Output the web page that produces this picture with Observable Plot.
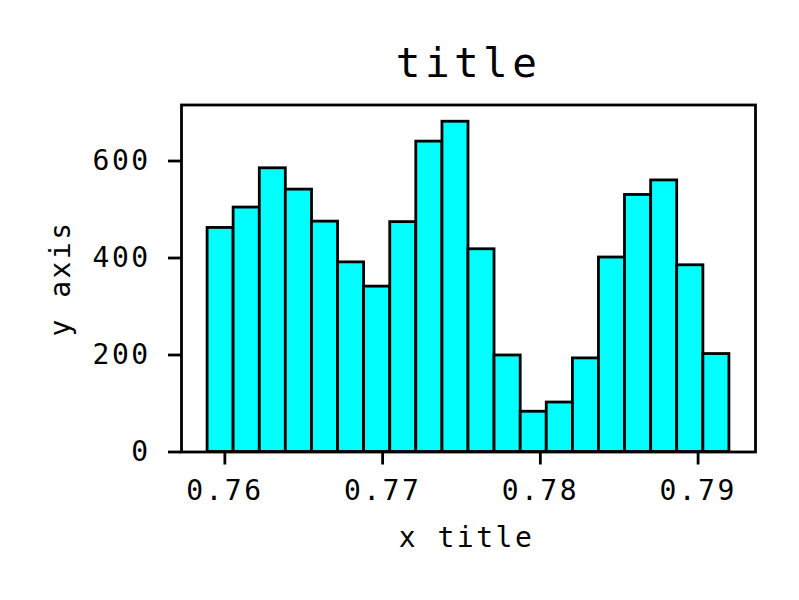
<!DOCTYPE html>
<html>
<head>
<meta charset="utf-8">
<script src="https://cdn.jsdelivr.net/npm/d3@7"></script>
<script src="https://cdn.jsdelivr.net/npm/@observablehq/plot@0.6"></script>
<style>
  html, body { margin: 0; padding: 0; background: #fff; }
</style>
</head>
<body>
<div id="chart"></div>
<script>
const binEdges = [0.75881, 0.76046, 0.76212, 0.76377, 0.76543, 0.76708, 0.76873,
  0.77039, 0.77204, 0.77370, 0.77535, 0.77700, 0.77866, 0.78031, 0.78197,
  0.78362, 0.78527, 0.78693, 0.78858, 0.79024, 0.79189];
const counts = [462, 504, 585, 541, 475, 391, 341, 474, 640, 681,
  418, 199, 83, 102, 193, 401, 530, 560, 385, 202];
const xTicks = [0.76, 0.77, 0.78, 0.79];
const yTicks = [0, 200, 400, 600];
const titleText = "title";
const xLabel = "x title";
const yLabel = "y axis";

const bins = counts.map((c, i) => ({x1: binEdges[i], x2: binEdges[i + 1], count: c}));

const font = "'DejaVu Sans Mono', monospace";
const svg = Plot.plot({
  width: 799,
  height: 600,
  marginLeft: 181,
  marginRight: 44,
  marginTop: 104.5,
  marginBottom: 148.5,
  style: {fontFamily: font, fontSize: "28px", letterSpacing: "2.5px", color: "#000", background: "#fff"},
  x: {domain: [0.757156, 0.793544]},
  y: {domain: [0, 715.5]},
  marks: [
    Plot.rectY(bins, {x1: "x1", x2: "x2", y: "count", fill: "#00ffff", stroke: "#000", strokeWidth: 2.8, inset: 0}),
    Plot.frame({stroke: "#000", strokeWidth: 2.8}),
    Plot.axisX({ticks: xTicks, tickFormat: d => d.toFixed(2), tickSize: 13, tickPadding: 15.5, strokeWidth: 2.8, label: null, dx: -1.5}),
    Plot.axisY({ticks: yTicks, tickFormat: d => String(d), tickSize: 13, tickPadding: 17.8, strokeWidth: 2.8, label: null}),
    Plot.text([xLabel], {frameAnchor: "bottom", text: d => d, textAnchor: "middle", lineAnchor: "middle", dy: 86.5, dx: -2, fontSize: 28}),
    Plot.text([yLabel], {frameAnchor: "left", text: d => d, textAnchor: "middle", lineAnchor: "middle", rotate: -90, dx: -120, dy: 0, fontSize: 28}),
    Plot.text([titleText], {frameAnchor: "top", text: d => d, textAnchor: "middle", lineAnchor: "middle", dy: -41.5, dx: 0, fontSize: 41})
  ]
});
d3.select(svg).selectAll("text").filter(function() { return this.textContent === titleText; })
  .style("letter-spacing", "4.4px");
document.getElementById("chart").appendChild(svg);
</script>
</body>
</html>
